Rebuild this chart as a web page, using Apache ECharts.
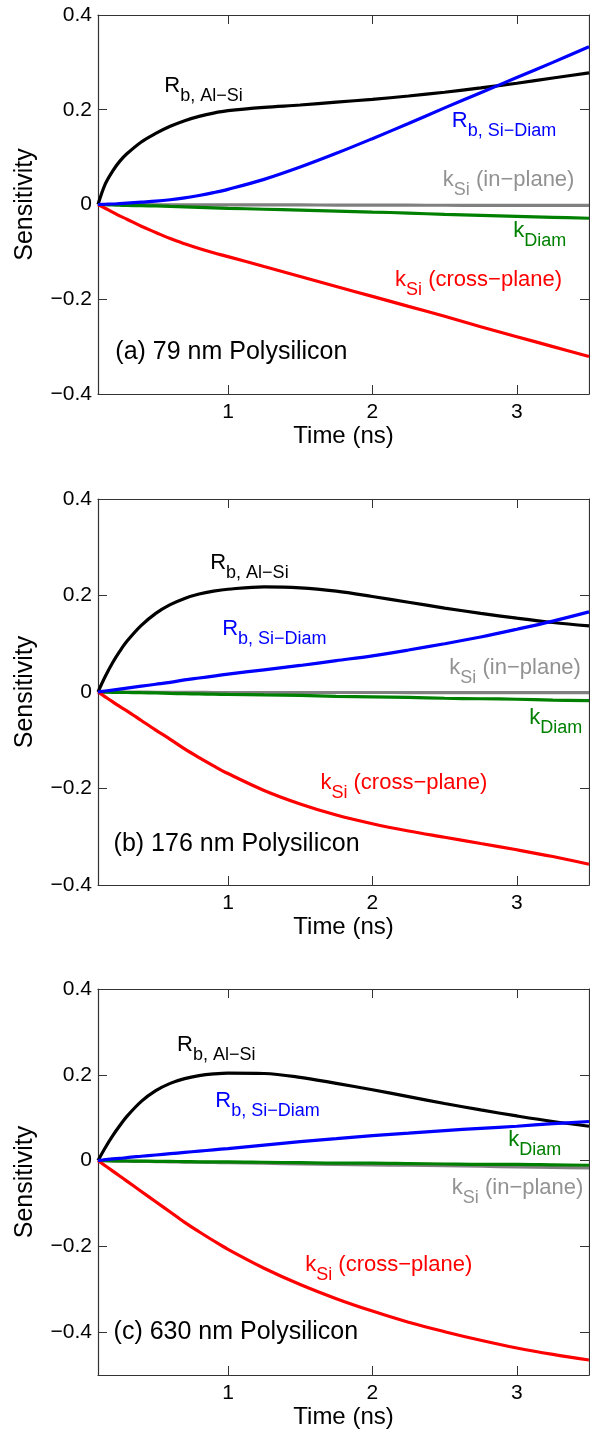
<!DOCTYPE html>
<html><head><meta charset="utf-8">
<script src="https://cdn.jsdelivr.net/npm/echarts@6/dist/echarts.min.js"></script>
<style>html,body{margin:0;padding:0;background:#fff}#c{width:590px;height:1432px}</style>
</head><body><div id="c"></div>
<script>
// ---------- data ----------
const time = [0.1, 0.15, 0.2, 0.25, 0.3, 0.4, 0.5, 0.6, 0.7, 0.8, 0.9, 1.0, 1.25, 1.5, 1.75, 2.0, 2.25, 2.5, 2.75, 3.0, 3.25, 3.5];

// (a) 79 nm
const a_rbAlSi   = [0, 0.043, 0.070, 0.091, 0.107, 0.132, 0.150, 0.165, 0.177, 0.186, 0.193, 0.198, 0.205, 0.210, 0.216, 0.222, 0.229, 0.237, 0.246, 0.256, 0.267, 0.278];
const a_rbSiDiam = [0, 0.0005, 0.001, 0.002, 0.003, 0.005, 0.007, 0.010, 0.014, 0.019, 0.025, 0.032, 0.053, 0.079, 0.108, 0.139, 0.171, 0.204, 0.236, 0.268, 0.300, 0.333];
const a_kSiIn    = [0, 0, 0, 0, 0, -0.0003, -0.0005, -0.0005, -0.0007, -0.0008, -0.001, -0.001, -0.001, -0.001, -0.0012, -0.0014, -0.0015, -0.0016, -0.0017, -0.0018, -0.0019, -0.002];
const a_kDiam    = [0, -0.0005, -0.001, -0.0015, -0.002, -0.0025, -0.003, -0.004, -0.005, -0.006, -0.007, -0.008, -0.010, -0.012, -0.014, -0.016, -0.018, -0.021, -0.023, -0.025, -0.027, -0.029];
const a_kSiCross = [0, -0.008, -0.016, -0.024, -0.031, -0.046, -0.059, -0.072, -0.083, -0.093, -0.102, -0.110, -0.131, -0.152, -0.173, -0.194, -0.215, -0.236, -0.258, -0.279, -0.300, -0.321];

// (b) 176 nm
const b_rbAlSi   = [0, 0.032, 0.060, 0.084, 0.105, 0.138, 0.163, 0.181, 0.194, 0.203, 0.209, 0.213, 0.218, 0.216, 0.209, 0.198, 0.186, 0.174, 0.163, 0.153, 0.144, 0.137];
const b_rbSiDiam = [0, 0.002, 0.004, 0.006, 0.008, 0.012, 0.016, 0.020, 0.025, 0.029, 0.033, 0.037, 0.046, 0.055, 0.065, 0.075, 0.087, 0.100, 0.114, 0.130, 0.147, 0.166];
const b_kSiIn    = [0, 0, 0, 0, 0, -0.0003, -0.0005, -0.0005, -0.0007, -0.0008, -0.001, -0.001, -0.001, -0.001, -0.001, -0.001, -0.0012, -0.0013, -0.0014, -0.0015, -0.0015, -0.0015];
const b_kDiam    = [0, -0.0003, -0.0006, -0.0008, -0.001, -0.0015, -0.002, -0.003, -0.0035, -0.004, -0.0045, -0.005, -0.006, -0.007, -0.009, -0.010, -0.011, -0.013, -0.014, -0.015, -0.017, -0.018];
const b_kSiCross = [0, -0.010, -0.020, -0.030, -0.039, -0.059, -0.079, -0.098, -0.118, -0.136, -0.153, -0.169, -0.204, -0.232, -0.255, -0.273, -0.288, -0.301, -0.314, -0.327, -0.341, -0.357];

// (c) 630 nm
const c_rbAlSi   = [0, 0.030, 0.057, 0.081, 0.103, 0.138, 0.163, 0.180, 0.191, 0.198, 0.202, 0.204, 0.203, 0.194, 0.180, 0.165, 0.149, 0.133, 0.118, 0.104, 0.091, 0.080];
const c_rbSiDiam = [0, 0.002, 0.004, 0.005, 0.007, 0.010, 0.013, 0.016, 0.019, 0.022, 0.025, 0.028, 0.036, 0.044, 0.051, 0.058, 0.064, 0.070, 0.075, 0.080, 0.086, 0.091];
const c_kSiIn    = [0, -0.0005, -0.001, -0.0012, -0.0015, -0.002, -0.0025, -0.003, -0.0035, -0.004, -0.0045, -0.005, -0.006, -0.008, -0.009, -0.010, -0.011, -0.012, -0.013, -0.015, -0.016, -0.017];
const c_kDiam    = [0, -0.0003, -0.0006, -0.0008, -0.001, -0.0013, -0.0017, -0.002, -0.0025, -0.003, -0.003, -0.003, -0.004, -0.005, -0.006, -0.006, -0.007, -0.008, -0.009, -0.009, -0.010, -0.011];
const c_kSiCross = [0, -0.012, -0.024, -0.036, -0.048, -0.072, -0.096, -0.120, -0.144, -0.166, -0.187, -0.207, -0.251, -0.289, -0.322, -0.351, -0.377, -0.399, -0.419, -0.437, -0.452, -0.465];

const xTicks = [1, 2, 3];
const yTicksAB = [-0.4, -0.2, 0, 0.2, 0.4];
const yTicksC = [-0.4, -0.2, 0, 0.2, 0.4];
const panelTitles = ['(a) 79 nm Polysilicon', '(b) 176 nm Polysilicon', '(c) 630 nm Polysilicon'];
const xName = 'Time (ns)';
const yName = 'Sensitivity';

// ---------- styling / layout ----------
const FONT = "'Liberation Sans', Arial, Helvetica, sans-serif";
const COL = { black: '#000000', blue: '#0000ff', gray: '#808080', green: '#008000', red: '#ff0000' };
const AXC = '#333333';
const grids = [
  { left: 98, top: 15, width: 491, height: 379 },
  { left: 98, top: 499, width: 491, height: 386 },
  { left: 98, top: 989, width: 491, height: 386 }
];
const yRanges = [[-0.4, 0.4], [-0.4, 0.4], [-0.5, 0.4]];
const panels = [
  { black: a_rbAlSi, blue: a_rbSiDiam, gray: a_kSiIn, green: a_kDiam, red: a_kSiCross, yt: yTicksAB },
  { black: b_rbAlSi, blue: b_rbSiDiam, gray: b_kSiIn, green: b_kDiam, red: b_kSiCross, yt: yTicksAB },
  { black: c_rbAlSi, blue: c_rbSiDiam, gray: c_kSiIn, green: c_kDiam, red: c_kSiCross, yt: yTicksC }
];

const fmtY = v => { if (Math.abs(v) < 1e-9) return '0'; return (v < 0 ? '\u2212' : '') + Math.abs(v).toFixed(1); };

const xAxes = [], yAxes = [], series = [];
panels.forEach((p, i) => {
  const tickBase = { show: true, inside: true, length: 9, lineStyle: { color: AXC, width: 1 } };
  const lineBase = { show: true, onZero: false, lineStyle: { color: AXC, width: 1.2 } };
  xAxes.push({
    type: 'value', gridIndex: i, min: 0.1, max: 3.5, position: 'bottom',
    axisLine: lineBase, splitLine: { show: false },
    axisTick: Object.assign({ customValues: xTicks }, tickBase),
    axisLabel: { customValues: xTicks, fontSize: 21, color: '#000', fontFamily: FONT, margin: 8, formatter: v => String(v) },
    name: xName, nameLocation: 'middle', nameGap: 29,
    nameTextStyle: { fontSize: 24, color: '#000', fontFamily: FONT, verticalAlign: 'top' }
  });
  xAxes.push({
    type: 'value', gridIndex: i, min: 0.1, max: 3.5, position: 'top',
    axisLine: lineBase, splitLine: { show: false },
    axisTick: Object.assign({ customValues: xTicks }, tickBase),
    axisLabel: { show: false }
  });
  yAxes.push({
    type: 'value', gridIndex: i, min: yRanges[i][0], max: yRanges[i][1], position: 'left',
    axisLine: lineBase, splitLine: { show: false },
    axisTick: Object.assign({ customValues: p.yt }, tickBase),
    axisLabel: { customValues: p.yt, fontSize: 21, color: '#000', fontFamily: FONT, margin: 6, formatter: fmtY },
    name: yName, nameLocation: 'middle', nameGap: 60, nameRotate: 90,
    nameTextStyle: { fontSize: 25, color: '#000', fontFamily: FONT }
  });
  yAxes.push({
    type: 'value', gridIndex: i, min: yRanges[i][0], max: yRanges[i][1], position: 'right',
    axisLine: lineBase, splitLine: { show: false },
    axisTick: Object.assign({ customValues: p.yt }, tickBase),
    axisLabel: { show: false }
  });
  ['gray', 'green', 'red', 'black', 'blue'].forEach(k => {
    series.push({
      type: 'line', xAxisIndex: i * 2, yAxisIndex: i * 2,
      data: time.map((t, j) => [t, p[k][j]]),
      symbol: 'none', smooth: 0.35, clip: true,
      lineStyle: { color: COL[k], width: 3.2 }, z: 3
    });
  });
});

const chart = echarts.init(document.getElementById('c'), null, { renderer: 'canvas' });
chart.setOption({
  animation: false,
  backgroundColor: '#fff',
  grid: grids,
  xAxis: xAxes,
  yAxis: yAxes,
  series: series
});

// ---------- annotations (anchored in data coordinates: top-left of text) ----------
const rich = {
  m: { fontSize: 22, lineHeight: 22, verticalAlign: 'top', fontFamily: FONT },
  s: { fontSize: 18, lineHeight: 18, padding: [12, 0, 0, 0], verticalAlign: 'top', fontFamily: FONT }
};
const LBL = {
  rAl: '{m|R}{s|b, Al\u2212Si}',
  rDi: '{m|R}{s|b, Si\u2212Diam}',
  kIn: '{m|k}{s|Si}{m| (in\u2212plane)}',
  kDi: '{m|k}{s|Diam}',
  kCr: '{m|k}{s|Si}{m| (cross\u2212plane)}'
};
const annots = [
  [0, 'rAl', 'black', 0.559, 0.273], [0, 'rDi', 'blue', 2.55, 0.199], [0, 'kIn', 'gray', 2.488, 0.0756],
  [0, 'kDi', 'green', 2.976, -0.0334], [0, 'kCr', 'red', 2.157, -0.1355],
  [1, 'rAl', 'black', 0.877, 0.290], [1, 'rDi', 'blue', 0.96, 0.153], [1, 'kIn', 'gray', 2.533, 0.0725],
  [1, 'kDi', 'green', 3.087, -0.031], [1, 'kCr', 'red', 1.64, -0.166],
  [2, 'rAl', 'black', 0.647, 0.296], [2, 'rDi', 'blue', 0.912, 0.164], [2, 'kDi', 'green', 2.94, 0.0744],
  [2, 'kIn', 'gray', 2.55, -0.0382], [2, 'kCr', 'red', 1.535, -0.217]
];
const titlePos = [[0.22, -0.2848], [0.208, -0.2895], [0.208, -0.371]];
const textColor = { black: '#000', blue: '#0000ff', gray: '#929292', green: '#008000', red: '#ff0000' };

const graphic = [];
annots.forEach(([pi, key, col, t, v]) => {
  const pt = chart.convertToPixel({ seriesIndex: pi * 5 }, [t, v]);
  graphic.push({
    type: 'text', x: pt[0], y: pt[1], z: 10,
    style: { text: LBL[key], rich: rich, fill: textColor[col], align: 'left', verticalAlign: 'top', fontFamily: FONT, fontSize: 22 }
  });
});
titlePos.forEach(([t, v], pi) => {
  const pt = chart.convertToPixel({ seriesIndex: pi * 5 }, [t, v]);
  graphic.push({
    type: 'text', x: pt[0], y: pt[1], z: 10,
    style: { text: panelTitles[pi], fill: '#000', align: 'left', verticalAlign: 'top', fontFamily: FONT, fontSize: 25 }
  });
});
chart.setOption({ graphic: graphic });
</script>
</body></html>
